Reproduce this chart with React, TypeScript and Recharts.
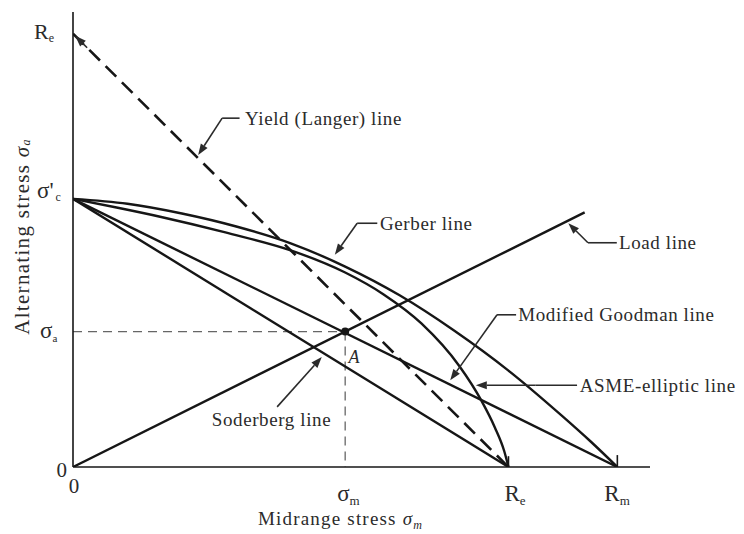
import { ComposedChart, Line, XAxis, YAxis, ReferenceLine, ReferenceDot, Label } from 'recharts';

// material limits (same unit on both axes)
const SE = 49.5; // fully reversed endurance limit
const RE = 80; // yield strength
const RM = 100; // ultimate strength
const SIG_M = 50;
const SIG_A = 25;

const soderberg = [{ x: 0, y: SE }, { x: RE, y: 0 }];
const goodman = [{ x: 0, y: SE }, { x: RM, y: 0 }];
const langer = [{ x: 0, y: RE }, { x: RE, y: 0 }];
const loadLine = [{ x: 0, y: 0 }, { x: 94, y: 47 }];

const gerber = [
  { x: 0, y: 49.5 }, { x: 10, y: 48.6 }, { x: 20, y: 46.8 }, { x: 30, y: 44.4 },
  { x: 40, y: 41.3 }, { x: 50, y: 37.0 }, { x: 60, y: 31.7 }, { x: 70, y: 25.2 },
  { x: 80, y: 17.8 }, { x: 90, y: 9.3 }, { x: 95, y: 4.8 }, { x: 100, y: 0 },
];

const elliptic = [
  { x: 0, y: 49.5 }, { x: 8, y: 47.9 }, { x: 16, y: 46.2 }, { x: 28, y: 43.3 },
  { x: 40, y: 40.0 }, { x: 50, y: 35.9 }, { x: 57, y: 31.9 }, { x: 64, y: 26.5 },
  { x: 71, y: 18.6 }, { x: 75, y: 12.3 }, { x: 77.5, y: 7.3 }, { x: 79.2, y: 3.0 },
  { x: 80, y: 0 },
];

const guideH = [{ x: 0, y: SIG_A }, { x: SIG_M, y: SIG_A }];
const guideV = [{ x: SIG_M, y: SIG_A }, { x: SIG_M, y: 0 }];

const xTicks = [0, SIG_M, RE, RM];
const yTicks = [0, SIG_A, SE, RE];

// callouts: text anchor + leader (plain part, then arrow part), in data units
const callouts = [
  { text: 'Yield (Langer) line', at: [31.6, 64.4], leg: [[30.6, 64.4], [27.4, 64.4]], arrow: [[27.4, 64.4], [23, 57.6]] },
  { text: 'Gerber line', at: [56.4, 45.0], leg: [[55.9, 45.0], [52.2, 45.0]], arrow: [[52.2, 45.0], [48.1, 39.2]] },
  { text: 'Load line', at: [100.3, 41.4], leg: [[99.9, 41.4], [94.6, 41.4]], arrow: [[94.6, 41.4], [91.0, 45.0]] },
  { text: 'Modified Goodman line', at: [81.8, 28.1], leg: [[81.4, 28.1], [77.9, 28.1]], arrow: [[77.9, 28.1], [69.3, 16.0]] },
  { text: 'ASME-elliptic line', at: [93.1, 15.1], leg: [[92.6, 15.1], [85, 15.1]], arrow: [[85, 15.1], [74.0, 15.1]] },
  { text: 'Soderberg line', at: [25.5, 8.7], leg: null, arrow: [[37.5, 11.1], [45.7, 20.3]] },
];

const INK = '#161616';
const TXT = '#2b2b2b';
const FONT = '"Liberation Serif", "Times New Roman", serif';

const Arrow = (p: any) => {
  const { x1, y1, x2, y2 } = p;
  const a = Math.atan2(y2 - y1, x2 - x1);
  const L = 11;
  const W = 4;
  const bx = x2 - L * Math.cos(a);
  const by = y2 - L * Math.sin(a);
  const nx = -Math.sin(a) * W;
  const ny = Math.cos(a) * W;
  return (
    <g>
      <line x1={x1} y1={y1} x2={bx} y2={by} stroke={TXT} strokeWidth={1.6} />
      <polygon points={`${x2},${y2} ${bx + nx},${by + ny} ${bx - nx},${by - ny}`} fill={TXT} />
    </g>
  );
};

const Leg = (p: any) => <line x1={p.x1} y1={p.y1} x2={p.x2} y2={p.y2} stroke={TXT} strokeWidth={1.6} />;

const XTick = ({ x, y, payload }: any) => {
  const v = payload.value;
  const base = y + 26;
  if (v === 0) return <text x={x + 1} y={y + 18} textAnchor="middle" fontSize={21} fontFamily={FONT} fill={TXT}>0</text>;
  const main = v === SIG_M ? 'σ' : 'R';
  const sub = v === SIG_M ? 'm' : v === RE ? 'e' : 'm';
  const dx = v === SIG_M ? -8 : v === RE ? -4 : -13;
  return (
    <text x={x + dx} y={base} fontSize={23} fontFamily={FONT} fill={TXT}>
      {main}
      <tspan fontSize={13} dy={4}>{sub}</tspan>
    </text>
  );
};

const YTick = ({ x, y, payload }: any) => {
  const v = payload.value;
  if (v === 0) return <text x={x + 2} y={y + 10} textAnchor="end" fontSize={21} fontFamily={FONT} fill={TXT}>0</text>;
  if (v === SIG_A)
    return (
      <text x={x - 25} y={y + 6} fontSize={23} fontFamily={FONT} fill={TXT}>
        σ<tspan fontSize={11} dy={4}>a</tspan>
      </text>
    );
  if (v === SE)
    return (
      <text x={x - 28} y={y - 1} fontSize={23} fontFamily={FONT} fill={TXT}>
        σ'<tspan fontSize={12} dx={2} dy={3}>c</tspan>
      </text>
    );
  return (
    <text x={x - 31} y={y + 5} fontSize={22} fontFamily={FONT} fill={TXT}>
      R<tspan fontSize={12} dy={3}>e</tspan>
    </text>
  );
};

const YLabel = ({ viewBox }: any) => {
  const cx = viewBox.x + 22;
  const cy = viewBox.y + viewBox.height / 2 - 3;
  return (
    <text x={cx} y={cy} transform={`rotate(-90 ${cx} ${cy})`} textAnchor="middle" dominantBaseline="central" fontSize={21} letterSpacing={1.3} fontFamily={FONT} fill={TXT}>
      Alternating stress <tspan fontStyle="italic">σ</tspan><tspan fontSize={12} fontStyle="italic" dy={4}>a</tspan>
    </text>
  );
};

const XLabel = ({ viewBox }: any) => {
  const cx = viewBox.x + viewBox.width / 2 - 21;
  const cy = viewBox.y + 58;
  return (
    <text x={cx} y={cy} textAnchor="middle" fontSize={19} letterSpacing={1.2} fontFamily={FONT} fill={TXT}>
      Midrange stress <tspan fontStyle="italic">σ</tspan><tspan fontSize={12} fontStyle="italic" dy={4}>m</tspan>
    </text>
  );
};

const lineStyle = { stroke: INK, strokeWidth: 2.4, dot: false, isAnimationActive: false, dataKey: 'y' };

export default function App() {
  return (
    <div style={{ position: 'absolute', left: 0, top: 0, width: 744, height: 534, background: '#fff' }}>
      <ComposedChart width={744} height={534} margin={{ top: 12, right: 94, bottom: 37, left: 0 }}>
        <XAxis
          type="number"
          dataKey="x"
          domain={[0, 106]}
          allowDataOverflow
          ticks={xTicks}
          tick={<XTick />}
          tickLine={false}
          axisLine={{ stroke: INK, strokeWidth: 1.6 }}
          height={30}
        >
          <Label content={<XLabel />} />
        </XAxis>
        <YAxis
          type="number"
          domain={[0, 84]}
          allowDataOverflow
          ticks={yTicks}
          tick={<YTick />}
          tickLine={false}
          axisLine={{ stroke: INK, strokeWidth: 1.6 }}
          width={73}
        >
          <Label content={<YLabel />} />
        </YAxis>

        <Line data={guideH} {...lineStyle} stroke="#666" strokeWidth={1.3} strokeDasharray="9 6" />
        <Line data={guideV} {...lineStyle} stroke="#666" strokeWidth={1.3} strokeDasharray="9 6" />
        <Line data={langer} type="linear" {...lineStyle} strokeWidth={2.6} strokeDasharray="15 8" />
        <Line data={soderberg} type="linear" {...lineStyle} />
        <Line data={goodman} type="linear" {...lineStyle} />
        <Line data={gerber} type="monotone" {...lineStyle} />
        <Line data={elliptic} type="monotone" {...lineStyle} />
        <Line data={loadLine} type="linear" {...lineStyle} />

        <ReferenceLine segment={[{ x: RE, y: 0 }, { x: RE, y: 2 }]} stroke={INK} strokeWidth={1.6} />
        <ReferenceLine segment={[{ x: RM, y: 0 }, { x: RM, y: 2.2 }]} stroke={INK} strokeWidth={1.6} />
        <ReferenceLine segment={[{ x: 2.6, y: 77.4 }, { x: 0.4, y: 79.6 }]} shape={Arrow} />

        <ReferenceDot x={SIG_M} y={SIG_A} r={4} fill={INK} stroke="none" />
        <ReferenceDot
          x={50.6}
          y={20.3}
          shape={(p: any) => (
            <text x={p.cx} y={p.cy} dominantBaseline="central" fontSize={18} fontStyle="italic" fontFamily={FONT} fill={TXT}>A</text>
          )}
        />

        {callouts.map((c) => (
          <ReferenceDot
            key={c.text}
            x={c.at[0]}
            y={c.at[1]}
            shape={(p: any) => (
              <text x={p.cx} y={p.cy} dominantBaseline="central" fontSize={19} letterSpacing={0.6} fontFamily={FONT} fill={TXT}>{c.text}</text>
            )}
          />
        ))}
        {callouts.filter((c) => c.leg).map((c) => (
          <ReferenceLine key={c.text + '-leg'} segment={[{ x: c.leg![0][0], y: c.leg![0][1] }, { x: c.leg![1][0], y: c.leg![1][1] }]} shape={Leg} />
        ))}
        {callouts.map((c) => (
          <ReferenceLine key={c.text + '-arrow'} segment={[{ x: c.arrow[0][0], y: c.arrow[0][1] }, { x: c.arrow[1][0], y: c.arrow[1][1] }]} shape={Arrow} />
        ))}
      </ComposedChart>
    </div>
  );
}
